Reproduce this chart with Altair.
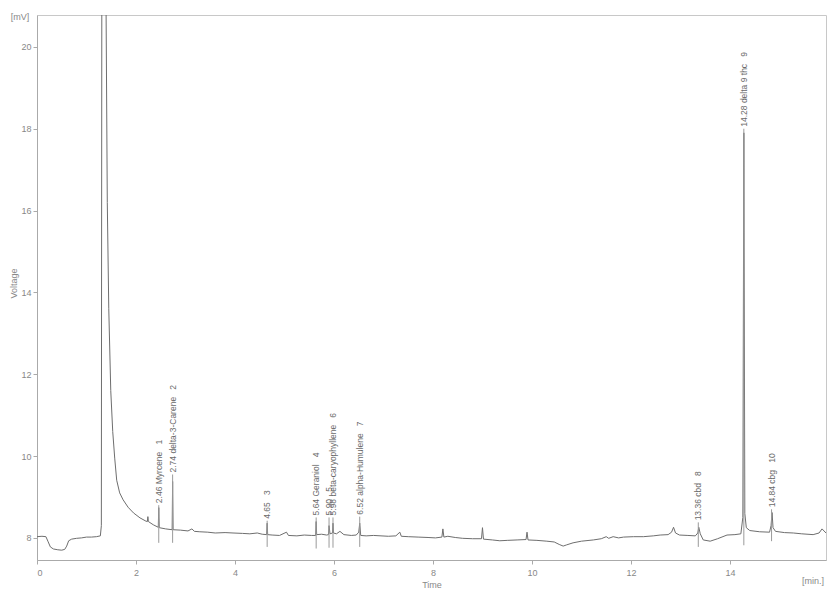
import altair as alt
import pandas as pd

# ---- chromatogram trace ----
time_min = [0.00, 0.10, 0.18, 0.22, 0.27, 0.33, 0.42, 0.50, 0.56, 0.60, 0.64, 0.70, 0.80, 0.90,
            1.00, 1.10, 1.20, 1.28, 1.30, 1.31, 1.39, 1.42, 1.45, 1.49, 1.53, 1.57, 1.61, 1.67,
            1.74, 1.84, 1.95, 2.08, 2.20, 2.23, 2.24, 2.25, 2.35, 2.45, 2.46, 2.47, 2.60, 2.73,
            2.74, 2.75, 2.90, 3.05, 3.13, 3.18, 3.29, 3.45, 3.60, 3.80, 3.96, 4.15, 4.30, 4.45,
            4.55, 4.64, 4.65, 4.66, 4.75, 4.90, 5.04, 5.08, 5.25, 5.40, 5.55, 5.63, 5.64, 5.65,
            5.75, 5.85, 5.89, 5.90, 5.92, 5.97, 5.98, 5.99, 6.05, 6.12, 6.20, 6.35, 6.45, 6.50,
            6.52, 6.54, 6.65, 6.80, 6.95, 7.10, 7.25, 7.33, 7.36, 7.50, 7.70, 7.90, 8.05, 8.18,
            8.20, 8.22, 8.30, 8.45, 8.60, 8.80, 8.98, 9.00, 9.02, 9.20, 9.35, 9.50, 9.70, 9.88,
            9.90, 9.92, 10.10, 10.30, 10.45, 10.55, 10.63, 10.70, 10.83, 11.00, 11.24, 11.40,
            11.50, 11.55, 11.64, 11.75, 11.85, 12.05, 12.25, 12.45, 12.59, 12.75, 12.82, 12.86,
            12.90, 12.98, 13.15, 13.30, 13.35, 13.37, 13.40, 13.46, 13.60, 13.75, 13.94, 14.10,
            14.22, 14.26, 14.28, 14.30, 14.33, 14.40, 14.60, 14.80, 14.83, 14.85, 14.87, 14.92,
            15.10, 15.28, 15.45, 15.68, 15.80, 15.86, 15.94]
voltage_mv = [8.03, 8.04, 8.03, 7.92, 7.78, 7.73, 7.71, 7.70, 7.72, 7.80, 7.93, 7.97, 7.99, 8.00,
              8.02, 8.02, 8.03, 8.05, 8.30, 22.0, 22.0, 16.2, 13.6, 11.6, 10.6, 9.95, 9.41, 9.10,
              8.93, 8.75, 8.61, 8.49, 8.41, 8.40, 8.52, 8.40, 8.32, 8.26, 8.74, 8.25, 8.22, 8.20,
              9.38, 8.20, 8.19, 8.17, 8.22, 8.16, 8.15, 8.14, 8.12, 8.13, 8.12, 8.11, 8.10, 8.12,
              8.09, 8.08, 8.36, 8.08, 8.07, 8.06, 8.14, 8.06, 8.05, 8.07, 8.06, 8.06, 8.40, 8.08,
              8.09, 8.07, 8.08, 8.30, 8.10, 8.12, 8.36, 8.12, 8.10, 8.16, 8.08, 8.06, 8.07, 8.14,
              8.36, 8.06, 8.05, 8.06, 8.05, 8.04, 8.05, 8.14, 8.04, 8.03, 8.02, 8.01, 8.00, 8.02,
              8.22, 8.02, 8.04, 8.01, 7.99, 7.98, 7.98, 8.25, 7.97, 7.95, 7.93, 7.94, 7.95, 7.96,
              8.14, 7.95, 7.94, 7.92, 7.90, 7.84, 7.80, 7.83, 7.88, 7.92, 7.95, 7.98,
              8.03, 7.99, 8.03, 8.00, 8.02, 8.03, 8.03, 8.05, 8.07, 8.08, 8.14, 8.26,
              8.12, 8.07, 8.06, 8.05, 8.12, 8.26, 8.10, 7.95, 7.92, 7.98, 8.07, 8.08,
              8.10, 8.50, 17.90, 8.60, 8.25, 8.18, 8.15, 8.14, 8.30, 8.62, 8.25, 8.16,
              8.13, 8.12, 8.10, 8.08, 8.12, 8.22, 8.12]

# ---- labelled peaks ----
peak_time = [2.46, 2.74, 4.65, 5.64, 5.90, 5.98, 6.52, 13.36, 14.28, 14.84]
peak_name = ["Myrcene", "delta-3-Carene", "", "Geraniol", "", "beta-caryophyllene",
             "alpha-Humulene", "cbd", "delta 9 thc", "cbg"]
peak_number = [1, 2, 3, 4, 5, 6, 7, 8, 9, 10]
label_base = [8.80, 9.55, 8.42, 8.50, 8.50, 8.50, 8.52, 8.38, 18.00, 8.70]
marker_bottom = [7.88, 7.88, 7.78, 7.74, 7.76, 7.76, 7.78, 7.78, 7.82, 7.92]

x_ticks = [0, 2, 4, 6, 8, 10, 12, 14]
y_ticks = [8, 10, 12, 14, 16, 18, 20]

trace_df = pd.DataFrame({"t": time_min, "v": voltage_mv})
GAP = "\u00a0\u00a0\u00a0"
labels = []
for t, name, n in zip(peak_time, peak_name, peak_number):
    if name:
        labels.append(f"{t:.2f} {name}{GAP}{n}")
    else:
        labels.append(f"{t:.2f}{GAP}{n}")
peaks_df = pd.DataFrame({"t": peak_time, "lab": labels, "top": label_base, "bot": marker_bottom})

GRAY = "#888888"
x_scale = alt.Scale(domain=[0, 15.94], nice=False, zero=False)
y_scale = alt.Scale(domain=[7.46, 20.78], nice=False, zero=False)

x_enc = alt.X("t:Q", scale=x_scale, axis=alt.Axis(
    values=x_ticks, title="Time", grid=False, tickSize=4, labelFontSize=9,
    labelColor=GRAY, titleFontSize=9, titleFontWeight="normal", titleColor=GRAY,
    domainColor="#aaaaaa", tickColor="#aaaaaa", labelPadding=4,
    titleY=27, titleBaseline="alphabetic", labelFont="Liberation Sans", titleFont="Liberation Sans"))
y_enc = alt.Y("v:Q", scale=y_scale, axis=alt.Axis(
    values=y_ticks, title="Voltage", grid=False, tickSize=4, labelFontSize=9,
    labelColor=GRAY, titleFontSize=9, titleFontWeight="normal", titleColor=GRAY,
    domainColor="#aaaaaa", tickColor="#aaaaaa", labelPadding=2,
    titleX=-24, titleY=268, titleAngle=270, titleAlign="center", titleBaseline="middle",
    labelFont="Liberation Sans", titleFont="Liberation Sans"))

trace = alt.Chart(trace_df).mark_line(color="#6e6e6e", strokeWidth=1, clip=True).encode(
    x=x_enc, y=y_enc)

markers = alt.Chart(peaks_df).mark_rule(color="#9a9a9a", strokeWidth=1).encode(
    x="t:Q", y="top:Q", y2="bot:Q")

texts = alt.Chart(peaks_df).mark_text(
    angle=270, align="left", baseline="middle", fontSize=8.5, color="#6a6a6a",
    font="Liberation Sans", dx=2).encode(x="t:Q", y="top:Q", text="lab:N")

mv = alt.Chart(pd.DataFrame({"s": ["[mV]"]})).mark_text(
    fontSize=9, color=GRAY, align="center", baseline="middle", font="Liberation Sans").encode(
    x=alt.value(-17), y=alt.value(2), text="s:N")
mins = alt.Chart(pd.DataFrame({"s": ["[min.]"]})).mark_text(
    fontSize=9, color=GRAY, align="left", baseline="middle", font="Liberation Sans").encode(
    x=alt.value(765), y=alt.value(566), text="s:N")

chart = alt.layer(trace, markers, texts, mv, mins).properties(
    width=789, height=545,
    autosize=alt.AutoSizeParams(type="none"),
    padding={"left": 29, "top": 7, "right": 1, "bottom": 32},
    background="white",
).configure_view(stroke="#c8c8c8", strokeWidth=1)

chart.save("out.html", embed_options={"renderer": "svg", "actions": False})
